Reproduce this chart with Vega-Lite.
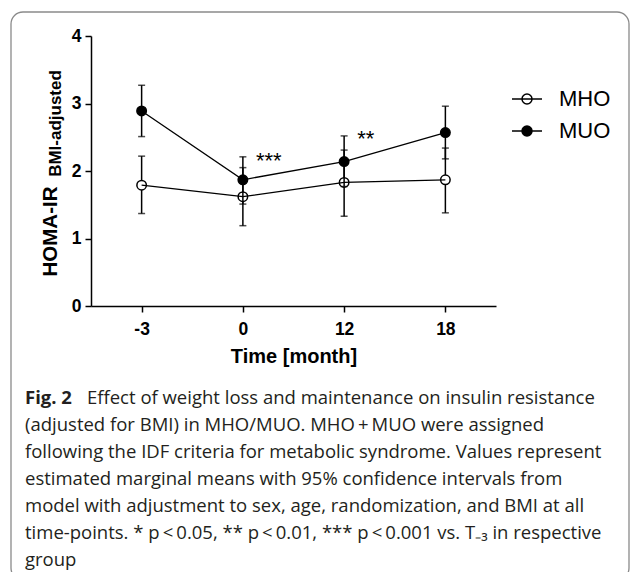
{
  "$schema": "https://vega.github.io/schema/vega-lite/v6.json",
  "width": 405,
  "height": 270,
  "autosize": {"type": "none"},
  "padding": {"left": 91, "top": 36, "right": 134, "bottom": 266},
  "background": "white",
  "config": {
    "view": {"stroke": null},
    "font": "Liberation Sans",
    "axis": {
      "domainColor": "black", "domainWidth": 1.5,
      "tickColor": "black", "tickWidth": 1.5, "tickSize": 6,
      "labelColor": "black", "labelFont": "Liberation Sans", "labelFontWeight": "bold", "labelFontSize": 17.5,
      "titleColor": "black", "titleFont": "Liberation Sans", "titleFontWeight": "bold",
      "grid": false
    }
  },
  "resolve": {"scale": {"x": "independent", "y": "independent"}, "axis": {"x": "independent", "y": "independent"}},
  "layer": [
    {
      "data": {"values": [{}]},
      "mark": {"type": "rect", "fill": "transparent", "stroke": "#8a8a8a", "strokeWidth": 1.3, "cornerRadius": 12},
      "encoding": {
        "x": {"datum": 0, "type": "quantitative", "scale": {"domain": [0, 1], "range": [-80, 538]}, "axis": null},
        "x2": {"datum": 1},
        "y": {"datum": 0, "type": "quantitative", "scale": {"domain": [0, 1], "range": [-24, 544]},
          "axis": {"orient": "left", "title": "BMI-adjusted", "labels": false, "ticks": false, "domain": false, "grid": false,
            "titleFontSize": 17, "titleFontWeight": "bold", "titleAngle": 270, "titleAlign": "center", "titleBaseline": "alphabetic",
            "titleX": -31, "titleY": 87, "titleColor": "black", "titleFont": "Liberation Sans"}},
        "y2": {"datum": 1}
      }
    },
    {
      "data": {"values": [
        {"line": 1, "kind": "figlabel", "text": "Fig. 2"},
        {"line": 1, "kind": "lead", "text": "Effect of weight loss and maintenance on insulin resistance"},
        {"line": 2, "kind": "body", "text": "(adjusted for BMI) in MHO/MUO. MHO\u2009+\u2009MUO were assigned"},
        {"line": 3, "kind": "body", "text": "following the IDF criteria for metabolic syndrome. Values represent"},
        {"line": 4, "kind": "body", "text": "estimated marginal means with 95% confidence intervals from"},
        {"line": 5, "kind": "body", "text": "model with adjustment to sex, age, randomization, and BMI at all"},
        {"line": 6, "kind": "body", "text": "time-points. * p\u2009<\u20090.05, ** p\u2009<\u20090.01, *** p\u2009<\u20090.001 vs. T\u208b\u2083 in respective"},
        {"line": 7, "kind": "body", "text": "group"}
      ]},
      "encoding": {
        "x": {"datum": 0, "type": "quantitative", "scale": {"domain": [0, 1], "range": [-66, 540]}, "axis": null},
        "y": {"field": "line", "type": "quantitative", "scale": {"domain": [1, 7], "range": [368, 530]}, "axis": null},
        "text": {"field": "text"}
      },
      "layer": [
        {"transform": [{"filter": "datum.kind === 'figlabel'"}],
          "mark": {"type": "text", "align": "left", "baseline": "alphabetic", "font": "Open Sans", "fontSize": 18.5, "fontWeight": "bold", "color": "#231f20"}},
        {"transform": [{"filter": "datum.kind === 'lead'"}],
          "mark": {"type": "text", "align": "left", "baseline": "alphabetic", "dx": 62, "font": "Open Sans", "fontSize": 18.5, "color": "#231f20"}},
        {"transform": [{"filter": "datum.kind === 'body'"}],
          "mark": {"type": "text", "align": "left", "baseline": "alphabetic", "font": "Open Sans", "fontSize": 18.5, "color": "#231f20"}}
      ]
    },
    {
      "data": {"values": [
        {"group": "MHO", "time": "-3", "value": 1.79, "lo": 1.37, "hi": 2.22},
        {"group": "MHO", "time": "0", "value": 1.62, "lo": 1.19, "hi": 2.05},
        {"group": "MHO", "time": "12", "value": 1.83, "lo": 1.33, "hi": 2.31},
        {"group": "MHO", "time": "18", "value": 1.87, "lo": 1.38, "hi": 2.34},
        {"group": "MUO", "time": "-3", "value": 2.89, "lo": 2.51, "hi": 3.27},
        {"group": "MUO", "time": "0", "value": 1.87, "lo": 1.51, "hi": 2.21},
        {"group": "MUO", "time": "12", "value": 2.14, "lo": 1.77, "hi": 2.52},
        {"group": "MUO", "time": "18", "value": 2.57, "lo": 2.18, "hi": 2.96}
      ]},
      "encoding": {
        "x": {"field": "time", "type": "ordinal", "sort": ["-3", "0", "12", "18"],
          "scale": {"type": "point", "padding": 0.5},
          "axis": {"title": "Time [month]", "labelAngle": 0, "labelPadding": 8, "titleFontSize": 20, "titleBaseline": "alphabetic", "titleY": 56, "titleX": 202.5, "titleAnchor": null}}
      },
      "layer": [
        {"transform": [{"filter": "datum.group === 'MHO'"}],
          "mark": {"type": "rule", "color": "black", "strokeWidth": 1.5},
          "encoding": {
            "y": {"field": "lo", "type": "quantitative", "title": "HOMA-IR", "scale": {"domain": [0, 4]},
              "axis": {"orient": "left", "values": [0, 1, 2, 3, 4], "format": "d", "labelPadding": 4, "titleFontSize": 20.5, "titleAngle": 270, "titleAlign": "center", "titleBaseline": "alphabetic", "titleX": -35, "titleY": 195, "titleAnchor": null}},
            "y2": {"field": "hi"}}},
        {"transform": [{"filter": "datum.group === 'MHO'"}],
          "mark": {"type": "tick", "color": "black", "size": 7, "thickness": 1.5},
          "encoding": {"y": {"field": "lo", "type": "quantitative", "title": "HOMA-IR"}}},
        {"transform": [{"filter": "datum.group === 'MHO'"}],
          "mark": {"type": "tick", "color": "black", "size": 7, "thickness": 1.5},
          "encoding": {"y": {"field": "hi", "type": "quantitative", "title": "HOMA-IR"}}},
        {"transform": [{"filter": "datum.group === 'MHO'"}],
          "mark": {"type": "circle", "size": 90, "stroke": "black", "strokeWidth": 1.5, "opacity": 1},
          "encoding": {
            "y": {"field": "value", "type": "quantitative", "title": "HOMA-IR"},
            "fill": {"field": "group", "type": "nominal", "scale": {"domain": ["MHO", "MUO"], "range": ["white", "black"]},
              "legend": {"title": null, "orient": "none", "legendX": 420, "legendY": 47, "padding": 0,
                "symbolType": "M-1,0H1M-0.333,0A0.333,0.333,0,1,1,0.333,0A0.333,0.333,0,1,1,-0.333,0Z",
                "symbolSize": 900, "symbolStrokeColor": "black", "symbolStrokeWidth": 1.5,
                "labelFont": "Liberation Sans", "labelFontSize": 22, "labelFontWeight": "normal", "labelColor": "black",
                "labelOffset": 16, "rowPadding": 5}}}},
        {"mark": {"type": "line", "color": "black", "strokeWidth": 1.3},
          "encoding": {"y": {"field": "value", "type": "quantitative", "title": "HOMA-IR"}, "detail": {"field": "group"}}},
        {"transform": [{"filter": "datum.group === 'MUO'"}],
          "mark": {"type": "rule", "color": "black", "strokeWidth": 1.5},
          "encoding": {"y": {"field": "lo", "type": "quantitative", "title": "HOMA-IR"}, "y2": {"field": "hi"}}},
        {"transform": [{"filter": "datum.group === 'MUO'"}],
          "mark": {"type": "tick", "color": "black", "size": 7, "thickness": 1.5},
          "encoding": {"y": {"field": "lo", "type": "quantitative", "title": "HOMA-IR"}}},
        {"transform": [{"filter": "datum.group === 'MUO'"}],
          "mark": {"type": "tick", "color": "black", "size": 7, "thickness": 1.5},
          "encoding": {"y": {"field": "hi", "type": "quantitative", "title": "HOMA-IR"}}},
        {"transform": [{"filter": "datum.group === 'MUO'"}],
          "mark": {"type": "circle", "size": 90, "stroke": "black", "strokeWidth": 1.5, "opacity": 1},
          "encoding": {
            "y": {"field": "value", "type": "quantitative", "title": "HOMA-IR"},
            "fill": {"field": "group", "type": "nominal"}}},
        {"data": {"values": [
            {"time": "0", "y": 2.3, "label": "***"},
            {"time": "12", "y": 2.62, "label": "**"}
          ]},
          "mark": {"type": "text", "align": "left", "baseline": "top", "dx": 13, "fontSize": 22, "font": "Liberation Sans", "color": "black"},
          "encoding": {"y": {"field": "y", "type": "quantitative", "title": "HOMA-IR"}, "text": {"field": "label"}}}
      ]
    }
  ]
}
